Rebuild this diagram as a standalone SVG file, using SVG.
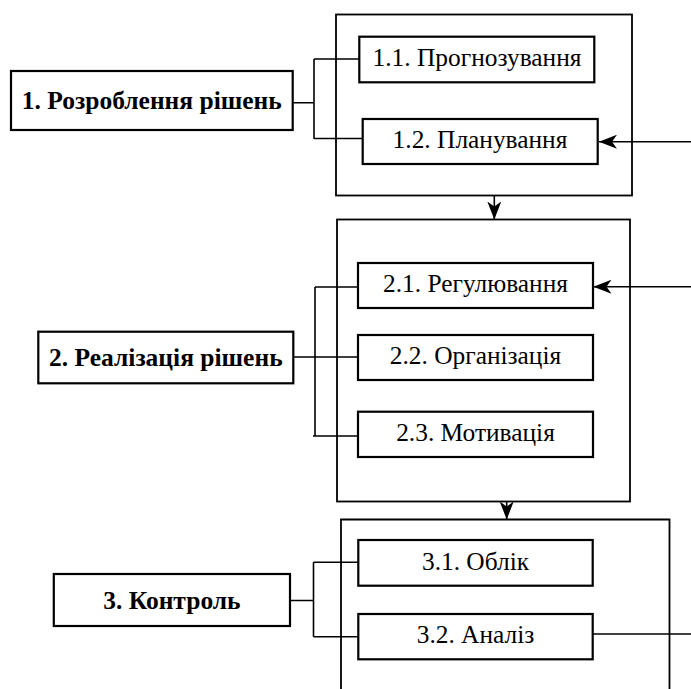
<svg xmlns="http://www.w3.org/2000/svg" width="691" height="689" viewBox="0 0 691 689">
<defs>
<style>
.box{fill:#fff;stroke:#000;stroke-width:2.2}
.outer{fill:none;stroke:#000;stroke-width:1.8}
.ln{fill:none;stroke:#000;stroke-width:1.6}
</style>
<marker id="ah" markerUnits="userSpaceOnUse" viewBox="0 0 18 14" markerWidth="18" markerHeight="14" refX="18" refY="7" orient="auto">
<path d="M0,0 L18,7 L0,14 L5,7 Z" fill="#000"/>
</marker>
</defs>
<g id="outer1"><rect class="outer" x="336" y="14.5" width="296" height="181"/></g>
<g id="outer2"><rect class="outer" x="337" y="219.5" width="293" height="282"/></g>
<g id="outer3"><path class="outer" d="M341,689 V519.5 H669.5 V689"/></g>
<g id="connectors">
<path class="ln" d="M292.7,102.7 H314 M314,59 V139 M314,59 H359.3 M314,138.5 H362.7"/>
<path class="ln" d="M293.3,357 H358 M315,287 V436 M315,287 H358 M313,436 H358"/>
<path class="ln" d="M290,600.5 H313.5 M313.5,562.3 V636.7 M313.5,562.3 H358.3 M313.5,636.7 H358.3"/>
<path class="ln" d="M592.7,634 H691"/>
<line class="ln" x1="691" y1="141.7" x2="599" y2="141.7" marker-end="url(#ah)"/>
<line class="ln" x1="691" y1="286.7" x2="593.5" y2="286.7" marker-end="url(#ah)"/>
<line class="ln" x1="494.3" y1="195.5" x2="494.3" y2="219.5" marker-end="url(#ah)"/>
<line class="ln" x1="506.7" y1="501.7" x2="506.7" y2="519.5" marker-end="url(#ah)"/>
</g>
<g id="n1"><rect class="box" x="11" y="71" width="281.7" height="59"/><text x="151.8" y="108.5" font-family="Liberation Serif" font-size="25.5" font-weight="bold" text-anchor="middle">1. Розроблення рішень</text></g>
<g id="n2"><rect class="box" x="38.3" y="331.7" width="255" height="51.6"/><text x="165.8" y="365.5" font-family="Liberation Serif" font-size="25.5" font-weight="bold" text-anchor="middle">2. Реалізація рішень</text></g>
<g id="n3"><rect class="box" x="53.8" y="574" width="236.2" height="52"/><text x="171.9" y="608.5" font-family="Liberation Serif" font-size="25.5" font-weight="bold" text-anchor="middle">3. Контроль</text></g>
<g id="n11"><rect class="box" x="359.3" y="36.7" width="235" height="45.6"/><text x="477" y="66" font-family="Liberation Serif" font-size="25.4" text-anchor="middle">1.1. Прогнозування</text></g>
<g id="n12"><rect class="box" x="362.7" y="119" width="235" height="45"/><text x="480" y="148.3" font-family="Liberation Serif" font-size="25.4" text-anchor="middle">1.2. Планування</text></g>
<g id="n21"><rect class="box" x="358" y="263" width="235" height="45"/><text x="475.5" y="292.3" font-family="Liberation Serif" font-size="25.4" text-anchor="middle">2.1. Регулювання</text></g>
<g id="n22"><rect class="box" x="358" y="335" width="235" height="45"/><text x="475.5" y="364.3" font-family="Liberation Serif" font-size="25.4" text-anchor="middle">2.2. Організація</text></g>
<g id="n23"><rect class="box" x="358" y="411.7" width="235" height="45.3"/><text x="475.5" y="441" font-family="Liberation Serif" font-size="25.4" text-anchor="middle">2.3. Мотивація</text></g>
<g id="n31"><rect class="box" x="358.3" y="540" width="234.4" height="45.7"/><text x="475.5" y="569.5" font-family="Liberation Serif" font-size="25.4" text-anchor="middle">3.1. Облік</text></g>
<g id="n32"><rect class="box" x="358.3" y="614" width="234.4" height="45.3"/><text x="475.5" y="643.3" font-family="Liberation Serif" font-size="25.4" text-anchor="middle">3.2. Аналіз</text></g>
</svg>
